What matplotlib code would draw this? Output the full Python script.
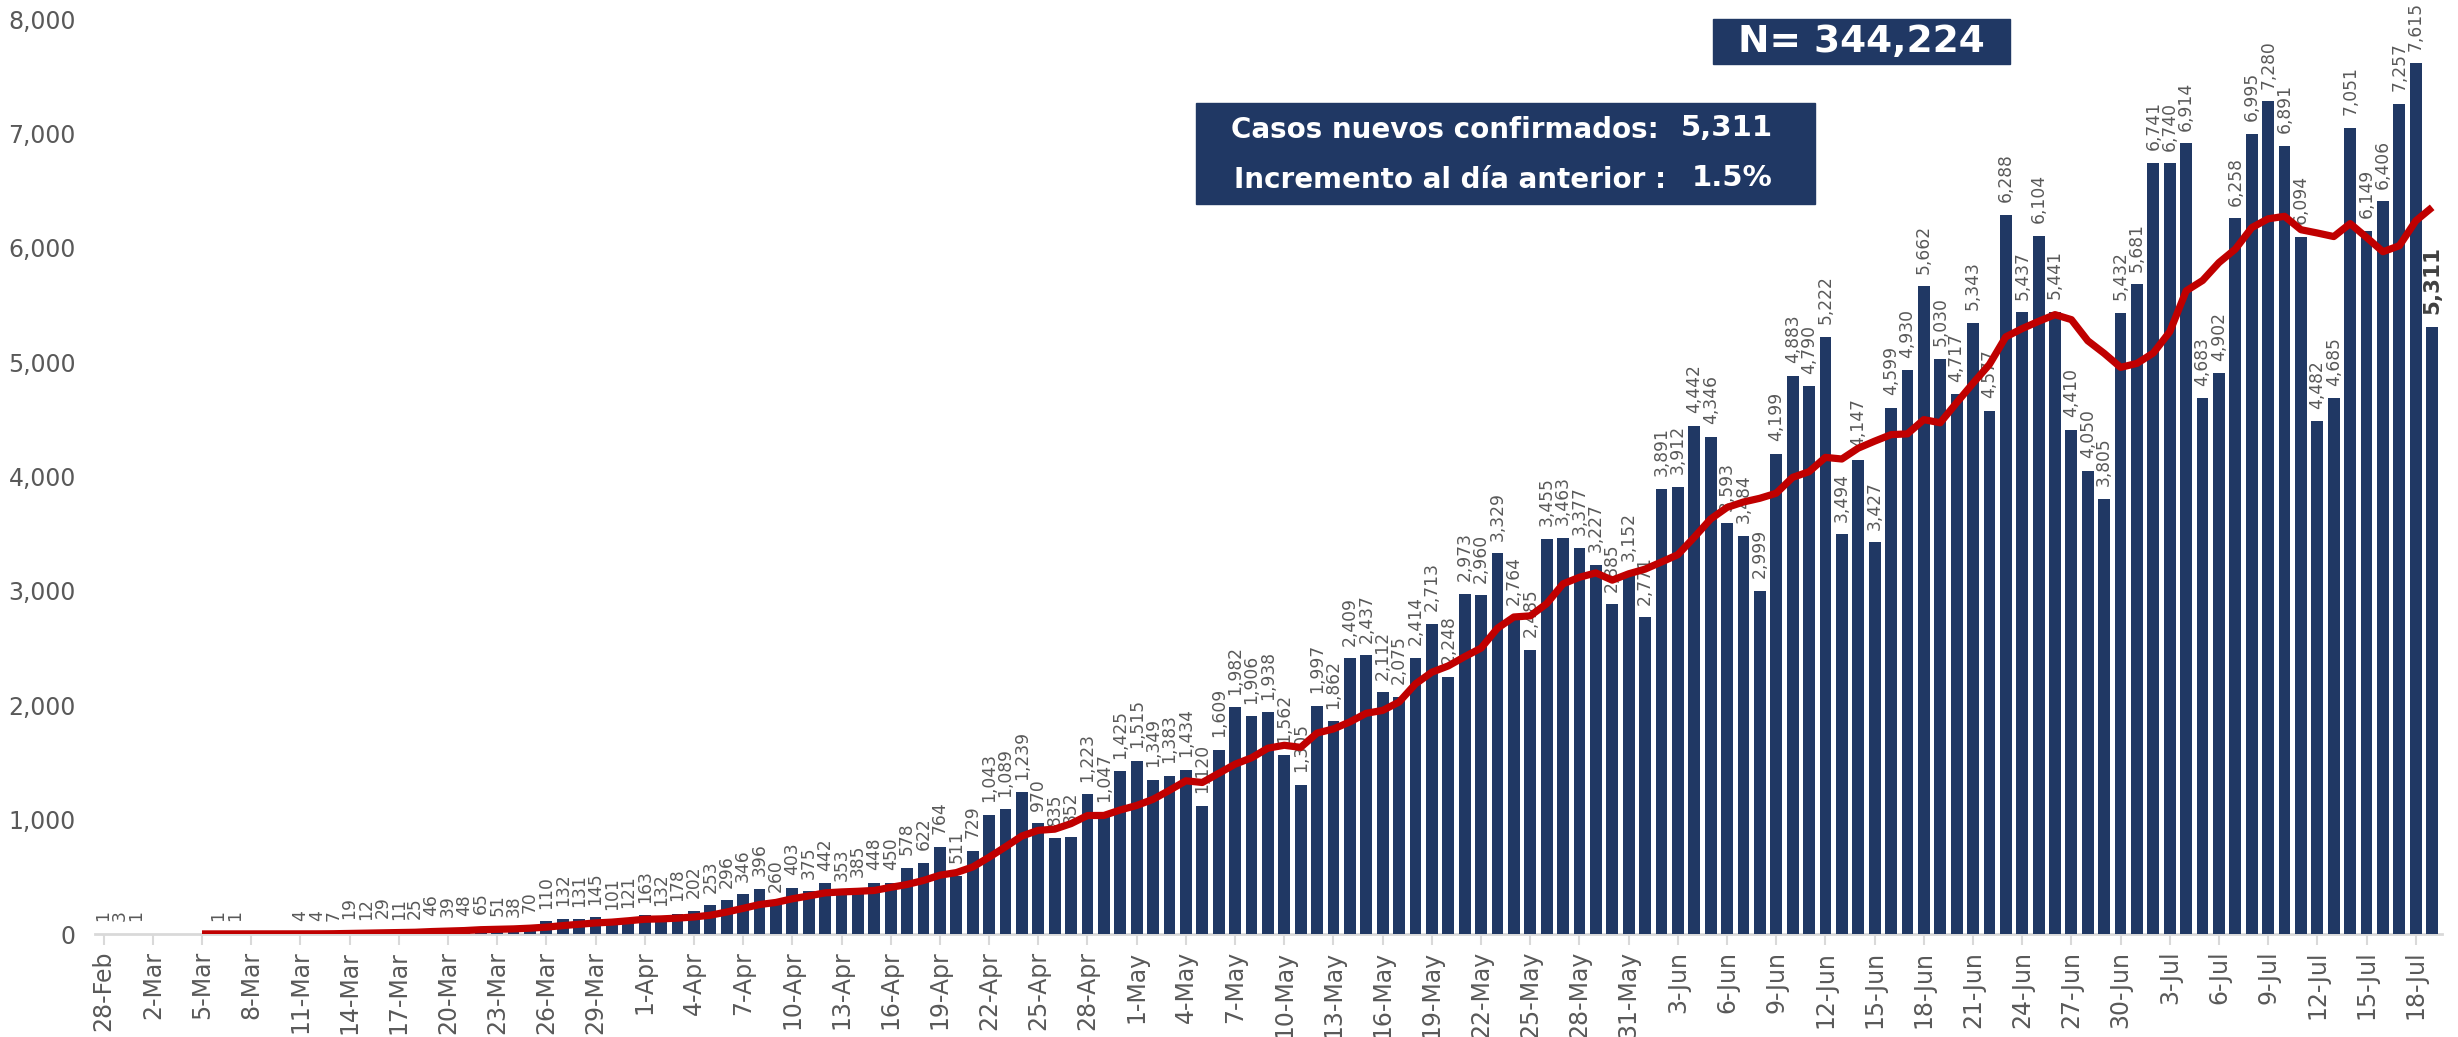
import numpy as np
import pandas as pd
import matplotlib
matplotlib.use('Agg')
import matplotlib.pyplot as plt
from matplotlib.patches import Rectangle
from matplotlib import font_manager

# ---------------- data ----------------
fechas = pd.date_range('2020-02-28', '2020-07-19', freq='D')

casos = [1, 3, 1, 0, 0, 0, 0, 1, 1, 0, 0, 0,
         4, 4, 7, 19, 12, 29, 11, 25, 46, 39, 48, 65, 51, 38, 70, 110, 132, 131,
         145, 101, 121, 163, 132, 178, 202, 253, 296, 346, 396, 260, 403, 375, 442,
         353, 385, 448, 450, 578, 622, 764, 511, 729, 1043, 1089, 1239, 970, 835,
         852, 1223, 1047, 1425, 1515, 1349, 1383, 1434, 1120, 1609, 1982, 1906, 1938,
         1562, 1305, 1997, 1862, 2409, 2437, 2112, 2075, 2414, 2713, 2248, 2973, 2960,
         3329, 2764, 2485, 3455, 3463, 3377, 3227, 2885, 3152, 2771, 3891, 3912, 4442,
         4346, 3593, 3484, 2999, 4199, 4883, 4790, 5222, 3494, 4147, 3427, 4599, 4930,
         5662, 5030, 4717, 5343, 4577, 6288, 5437, 6104, 5441, 4410, 4050, 3805, 5432,
         5681, 6741, 6740, 6914, 4683, 4902, 6258, 6995, 7280, 6891, 6094, 4482, 4685,
         7051, 6149, 6406, 7257, 7615, 5311]

nan = float('nan')
promedio_movil = [nan] * 6 + [
    0.7, 0.7, 0.4, 0.3, 0.3, 0.3, 0.9, 1.4, 2.3, 4.9, 6.6, 10.7, 12.3, 15.3, 21.3,
    25.9, 30.0, 37.6, 40.7, 44.6, 51.0, 60.1, 73.4, 85.3, 96.7, 103.9, 115.7, 129.0,
    132.1, 138.7, 148.9, 164.3, 192.1, 224.3, 257.6, 275.9, 308.0, 332.7, 359.7,
    367.9, 373.4, 380.9, 408.0, 433.0, 468.3, 514.3, 536.9, 586.0, 671.0, 762.3,
    856.7, 906.4, 916.6, 965.3, 1035.9, 1036.4, 1084.4, 1123.9, 1178.0, 1256.3,
    1339.4, 1324.7, 1405.0, 1484.6, 1540.4, 1624.6, 1650.1, 1631.7, 1757.0, 1793.1,
    1854.1, 1930.0, 1954.9, 2028.1, 2186.6, 2288.9, 2344.0, 2424.6, 2499.3, 2673.1,
    2771.6, 2781.7, 2887.7, 3061.3, 3119.0, 3157.1, 3093.7, 3149.1, 3190.0, 3252.3,
    3316.4, 3468.6, 3628.4, 3729.6, 3777.0, 3809.6, 3853.6, 3992.3, 4042.0, 4167.1,
    4153.0, 4247.7, 4308.9, 4366.0, 4372.7, 4497.3, 4469.9, 4644.6, 4815.4, 4979.7,
    5221.0, 5293.4, 5356.6, 5415.3, 5371.4, 5186.7, 5076.4, 4954.1, 4989.0, 5080.0,
    5265.6, 5623.3, 5713.7, 5870.4, 5988.4, 6176.1, 6253.1, 6274.7, 6157.6, 6128.9,
    6097.9, 6211.1, 6090.3, 5965.4, 6017.7, 6235.0, 6353.4]

etiquetas_fecha = [f"{d.day}-{d.strftime('%b')}" for d in fechas]
y_ticks = [0, 1000, 2000, 3000, 4000, 5000, 6000, 7000, 8000]

total_txt = "N= 344,224"
linea1_txt = "Casos nuevos confirmados:"
linea1_num = "5,311"
linea2_txt = "Incremento al día anterior :"
linea2_num = "1.5%"

# ---------------- style ----------------
NAVY = '#203864'
RED = '#C00000'
GRAY = '#595959'
W, H = 2458, 1037

plt.rcParams['font.family'] = ['DejaVu Sans']

installed = {f.name for f in font_manager.fontManager.ttflist}
if 'Liberation Sans Narrow' in installed:
    num_family, num_size = ['Liberation Sans Narrow', 'DejaVu Sans'], 27
else:
    num_family, num_size = ['DejaVu Sans'], 21

fig = plt.figure(figsize=(W / 100, H / 100), dpi=100)
fig.patch.set_facecolor('white')

def fx(px):
    return px / W

def fy(py):
    return 1 - py / H

ax = fig.add_axes([fx(95.4), fy(934), fx(2442) - fx(95.4), fy(19) - fy(934)])

x = np.arange(len(casos))
ax.bar(x, casos, width=0.72, color=NAVY, zorder=2)
ax.plot(x, promedio_movil, color=RED, lw=5.2, zorder=4,
        solid_joinstyle='round', solid_capstyle='butt')

last = len(casos) - 1
for i, v in enumerate(casos):
    if v <= 0:
        continue
    if i == last:
        ax.annotate(f"{v:,}", (i, v), xytext=(0, 9), textcoords='offset points',
                    rotation=90, ha='center', va='bottom', fontsize=15.5,
                    fontweight='bold', color='#404040', zorder=3)
    else:
        ax.annotate(f"{v:,}", (i, v), xytext=(0, 9), textcoords='offset points',
                    rotation=90, ha='center', va='bottom', fontsize=12.3,
                    color=GRAY, zorder=3)

ax.set_xlim(-0.5, 142.6)
ax.set_ylim(0, 8000)
for s in ['top', 'right', 'left']:
    ax.spines[s].set_visible(False)
ax.spines['bottom'].set_color('#d9d9d9')
ax.spines['bottom'].set_linewidth(2)
ax.spines['bottom'].set_zorder(1)

ax.set_xticks(x[::3])
ax.set_xticklabels(etiquetas_fecha[::3], rotation=90)
ax.tick_params(axis='x', length=8, width=1.5, color='#d9d9d9', labelcolor=GRAY,
               labelsize=17, pad=4)
ax.set_yticks(y_ticks)
ax.set_yticklabels([f"{t:,}" for t in y_ticks])
ax.tick_params(axis='y', length=0, labelcolor=GRAY, labelsize=17, pad=14)

# ---------------- boxes ----------------
fig.patches.append(Rectangle((fx(1713), fy(64)), fx(2010) - fx(1713), fy(19) - fy(64),
                             transform=fig.transFigure, color=NAVY, zorder=5))
fig.text(fx(1861), fy(42), total_txt, ha='center', va='center', color='white',
         fontsize=27, fontweight='bold', zorder=6)

fig.patches.append(Rectangle((fx(1196), fy(204)), fx(1815) - fx(1196), fy(103) - fy(204),
                             transform=fig.transFigure, color=NAVY, zorder=5))
fig.text(fx(1231), fy(130), linea1_txt, ha='left', va='center', color='white',
         fontsize=20, fontweight='bold', zorder=6)
fig.text(fx(1773), fy(128), linea1_num, ha='right', va='center', color='white',
         fontsize=num_size, fontweight='bold', family=num_family, zorder=6)
fig.text(fx(1234), fy(180), linea2_txt, ha='left', va='center', color='white',
         fontsize=20, fontweight='bold', zorder=6)
fig.text(fx(1773), fy(178), linea2_num, ha='right', va='center', color='white',
         fontsize=num_size, fontweight='bold', family=num_family, zorder=6)

fig.savefig('out.png', dpi=100, facecolor='white')
